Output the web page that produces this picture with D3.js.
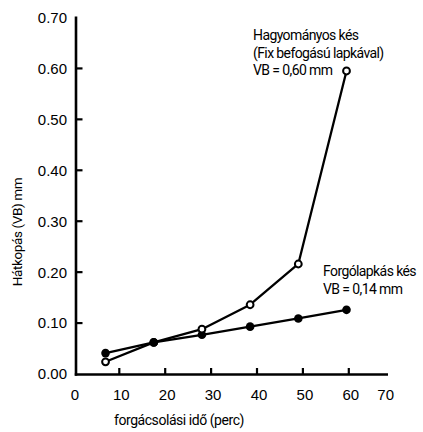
<!DOCTYPE html>
<html><head><meta charset="utf-8">
<script src="https://cdn.jsdelivr.net/npm/d3@7"></script>
<style>
html,body{margin:0;padding:0;background:#fff;}
svg{display:block;}
.tick-label{font-family:"Liberation Sans",Arial,sans-serif;font-size:15px;fill:#000;}
.din{font-family:Roboto,"Noto Sans",sans-serif;fill:#000;}
</style>
</head><body>
<svg id="chart" width="423" height="432"></svg>
<script>
// ---- data ----
const timeMinutes = [7, 17.5, 28, 38.5, 49, 59.5];
const conventional = [0.024, 0.062, 0.088, 0.136, 0.216, 0.595]; // Hagyományos kés (hollow)
const indexable = [0.041, 0.062, 0.077, 0.093, 0.109, 0.126];    // Forgólapkás kés (filled)
const xTickValues = [0, 10, 20, 30, 40, 50, 60, 70];
const yTickValues = [0, 0.1, 0.2, 0.3, 0.4, 0.5, 0.6, 0.7];
const conventionalLabel = ["Hagyományos kés", "(Fix befogású lapkával)", "VB = 0,60 mm"];
const indexableLabel = ["Forgólapkás kés", "VB = 0,14 mm"];
const xTitle = "forgácsolási idő (perc)";
const yTitle = "Hátkopás (VB) mm";

// ---- layout ----
const svg = d3.select("#chart");
const axisX0 = 76, axisY0 = 374.5;
const x = d3.scaleLinear().domain([0, 70]).range([73.4, 394.7]);
const y = d3.scaleLinear().domain([0, 0.7]).range([374, 17.5]);

// axes lines
svg.append("line").attr("x1", axisX0).attr("x2", axisX0).attr("y1", y(0.7) - 1).attr("y2", axisY0 + 1.2)
  .attr("stroke", "#000").attr("stroke-width", 2.6);
svg.append("line").attr("x1", axisX0 - 1.2).attr("x2", 388).attr("y1", axisY0).attr("y2", axisY0)
  .attr("stroke", "#000").attr("stroke-width", 2.6);

// y ticks (inward)
svg.selectAll(".ytick").data(yTickValues.filter(v => v > 0 && v < 0.7)).enter().append("line")
  .attr("x1", axisX0).attr("x2", axisX0 + 6.5)
  .attr("y1", d => y(d)).attr("y2", d => y(d))
  .attr("stroke", "#000").attr("stroke-width", 2.2);
svg.selectAll(".ylab").data(yTickValues).enter().append("text")
  .attr("class", "tick-label")
  .attr("x", 67).attr("y", d => y(d)).attr("dy", "0.36em")
  .attr("text-anchor", "end")
  .text(d => d3.format(".2f")(d));

// x ticks (inward/up)
svg.selectAll(".xtick").data(xTickValues.filter(v => v > 0 && v < 70)).enter().append("line")
  .attr("x1", d => x(d)).attr("x2", d => x(d))
  .attr("y1", axisY0).attr("y2", axisY0 - 6.5)
  .attr("stroke", "#000").attr("stroke-width", 2.2);
svg.selectAll(".xlab").data(xTickValues).enter().append("text")
  .attr("class", "tick-label")
  .attr("x", d => x(d) + (d === 0 ? 1.5 : (d === 70 ? -9 : 2)))
  .attr("y", 399.5)
  .attr("text-anchor", "middle")
  .text(d => d);

// axis titles
svg.append("text").attr("class", "din")
  .attr("x", 179).attr("y", 425)
  .attr("text-anchor", "middle")
  .style("font-size", "14px").style("letter-spacing", "-0.45px")
  .text(xTitle);
svg.append("text").attr("class", "din")
  .attr("transform", "translate(21.5,232) rotate(-90)")
  .attr("text-anchor", "middle")
  .style("font-size", "13.5px").style("letter-spacing", "-0.4px")
  .text(yTitle);

// lines
const line = d3.line().x((d, i) => x(timeMinutes[i])).y(d => y(d));
svg.append("path").datum(indexable).attr("d", line)
  .attr("fill", "none").attr("stroke", "#000").attr("stroke-width", 2.3).attr("stroke-linejoin", "round");
svg.append("path").datum(conventional).attr("d", line)
  .attr("fill", "none").attr("stroke", "#000").attr("stroke-width", 2.3).attr("stroke-linejoin", "round");

// markers
svg.selectAll(".mfill").data(indexable).enter().append("circle")
  .attr("cx", (d, i) => x(timeMinutes[i])).attr("cy", d => y(d))
  .attr("r", 4.3).attr("fill", "#000");
svg.selectAll(".mhollow").data(conventional).enter().append("circle")
  .attr("cx", (d, i) => x(timeMinutes[i])).attr("cy", d => y(d))
  .attr("r", 3.4).attr("fill", (d, i) => i === 1 ? "#000" : "#fff")
  .attr("stroke", "#000").attr("stroke-width", 2);

// annotations
const ann1 = svg.append("text").attr("class", "din")
  .style("font-size", "14px").style("letter-spacing", "-0.6px");
conventionalLabel.forEach((t, i) => {
  ann1.append("tspan").attr("x", 253).attr("y", 40 + i * 17.5).text(t);
});
const ann2 = svg.append("text").attr("class", "din")
  .style("font-size", "14px").style("letter-spacing", "-0.6px");
indexableLabel.forEach((t, i) => {
  ann2.append("tspan").attr("x", 323).attr("y", 275.5 + i * 18.5).text(t);
});
</script>
</body></html>
